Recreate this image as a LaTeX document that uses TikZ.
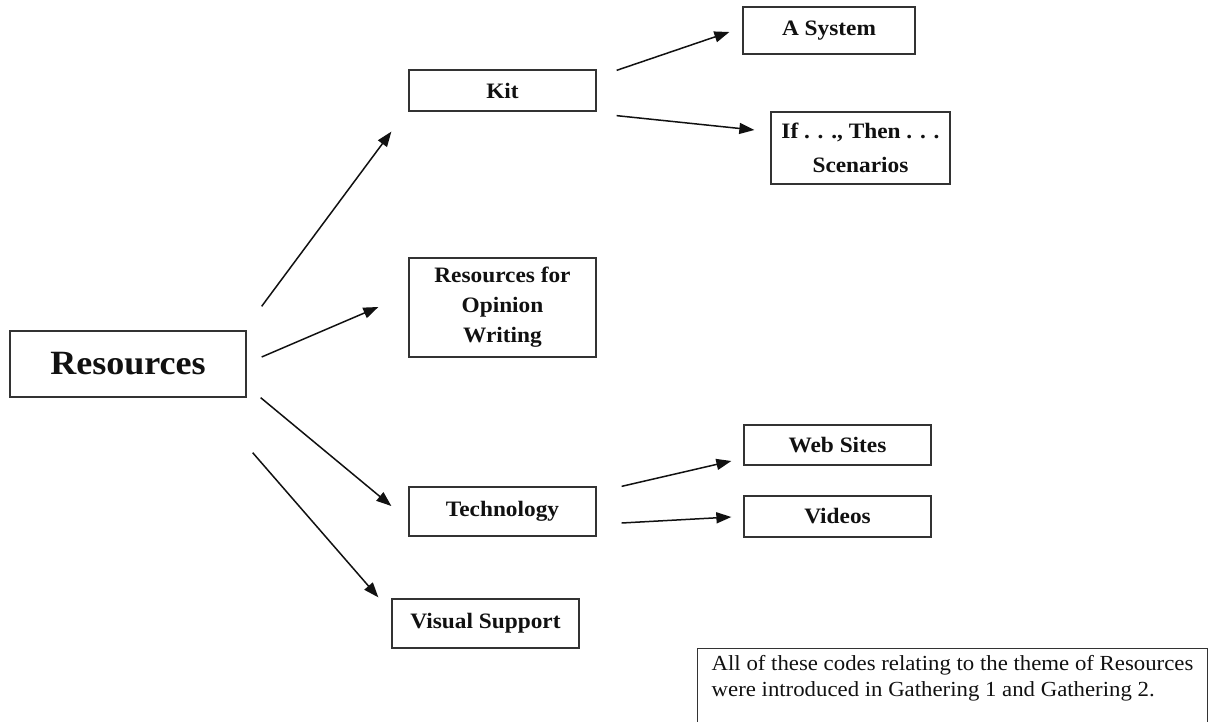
\documentclass[tikz,border=0pt]{standalone}
\usepackage{fontspec}
\setmainfont{Liberation Serif}[FakeStretch=1.06]
\usetikzlibrary{arrows.meta,calc}
\definecolor{boxgray}{HTML}{333333}
\definecolor{inkblack}{HTML}{111111}
\begin{document}
\begin{tikzpicture}[x=1pt,y=-1pt,
  box/.style={draw=boxgray,line width=1.3pt,inner sep=0pt,align=center,text=inkblack,
    font=\bfseries\fontsize{22}{30}\selectfont},
  conn/.style={draw=inkblack,line width=1.5pt,-{Triangle[length=15pt,width=11pt]}},
  notebox/.style={draw=boxgray,line width=1pt,anchor=north west,align=left,text=inkblack,
    inner xsep=13pt,inner ysep=7pt,font=\fontsize{21.5}{26}\selectfont}]
\clip (0,0) rectangle (1216,722);
\fill[white] (0,0) rectangle (1216,722);

% nodes
\node[box,minimum width=236,minimum height=66,font=\bfseries\fontsize{34}{38}\selectfont] (res) at (128,364) {Resources};
\node[box,minimum width=187,minimum height=41] (kit) at (502.5,90.5) {Kit};
\node[box,minimum width=187,minimum height=99] (op) at (502.5,307.5) {Resources for\\Opinion\\Writing};
\node[box,minimum width=187,minimum height=49] (tech) at (502.5,511.5) {Technology};
\node[box,minimum width=187,minimum height=49] (vis) at (485.5,623.5) {Visual Support};
\node[box,minimum width=172,minimum height=47] (asys) at (829,30.5) {A System};
\node[box,minimum width=179,minimum height=72] (ifthen) at (860.5,148) {If . . ., Then . . .\\[4pt]Scenarios};
\node[box,minimum width=187,minimum height=40] (web) at (837.5,445) {Web Sites};
\node[box,minimum width=187,minimum height=41] (vid) at (837.5,516.5) {Videos};
\node[notebox,minimum width=510] (note) at (697,648)
  {All of these codes relating to the theme of Resources\\were introduced in Gathering 1 and Gathering 2.\rule[-50pt]{0pt}{0pt}};

% connector end points
\coordinate (a1s) at ($(res.north east)+(15,-24)$);
\coordinate (a1e) at ($(kit.south west)+(-17,20)$);
\coordinate (a2s) at ($(res.east)+(15,-7)$);
\coordinate (a2e) at ($(op.west)+(-30,-0.5)$);
\coordinate (a3s) at ($(res.south east)+(14,0)$);
\coordinate (a3e) at ($(tech.west)+(-17,-5.5)$);
\coordinate (a4s) at ($(res.south east)+(6,55)$);
\coordinate (a4e) at ($(vis.north west)+(-13,-1)$);
\coordinate (a5s) at ($(kit.north east)+(20,1)$);
\coordinate (a5e) at ($(asys.west)+(-13,1.5)$);
\coordinate (a6s) at ($(kit.south east)+(20,4)$);
\coordinate (a6e) at ($(ifthen.west)+(-16,-18)$);
\coordinate (a7s) at ($(tech.north east)+(25,0)$);
\coordinate (a7e) at ($(web.west)+(-12,16)$);
\coordinate (a8s) at ($(tech.east)+(25,11.5)$);
\coordinate (a8e) at ($(vid.west)+(-12,0.5)$);

% connectors
\draw[conn] (a1s) -- (a1e);
\draw[conn] (a2s) -- (a2e);
\draw[conn] (a3s) -- (a3e);
\draw[conn] (a4s) -- (a4e);
\draw[conn] (a5s) -- (a5e);
\draw[conn] (a6s) -- (a6e);
\draw[conn] (a7s) -- (a7e);
\draw[conn] (a8s) -- (a8e);
\end{tikzpicture}
\end{document}
